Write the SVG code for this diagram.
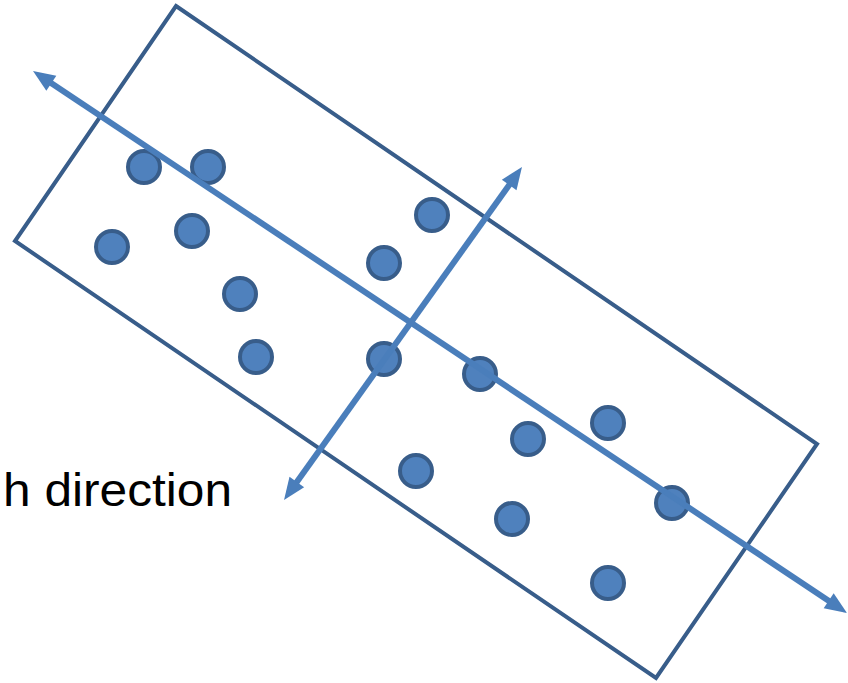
<svg xmlns="http://www.w3.org/2000/svg" width="848" height="683" viewBox="0 0 848 683">
<style>
.frame{fill:none;stroke:#385D8A;stroke-width:4;stroke-linejoin:miter}
.dot{fill:#4F81BD;stroke:#385D8A;stroke-width:4}
.axis{fill:none;stroke:#4A7EBB;stroke-width:6}
.lbl{font-family:"Liberation Sans",Arial,sans-serif;font-size:46px;fill:#000}
</style>
<defs>
<marker id="ah" markerUnits="userSpaceOnUse" markerWidth="24" markerHeight="20" refX="4" refY="9" orient="auto-start-reverse" overflow="visible">
<path d="M0,0 L22,9 L0,18 z" fill="#4A7EBB"/>
</marker>
</defs>
<g id="box"><polygon class="frame" points="176,6 817,444 656,678 15,241"/></g>
<g id="points">
<circle class="dot" cx="144" cy="167" r="16"/>
<circle class="dot" cx="208" cy="167" r="16"/>
<circle class="dot" cx="112" cy="247" r="16"/>
<circle class="dot" cx="192" cy="231" r="16"/>
<circle class="dot" cx="240" cy="294" r="16"/>
<circle class="dot" cx="256" cy="357" r="16"/>
<circle class="dot" cx="384" cy="359" r="16"/>
<circle class="dot" cx="384" cy="263" r="16"/>
<circle class="dot" cx="432" cy="215" r="16"/>
<circle class="dot" cx="480" cy="374" r="16"/>
<circle class="dot" cx="528" cy="439" r="16"/>
<circle class="dot" cx="608" cy="423" r="16"/>
<circle class="dot" cx="416" cy="471" r="16"/>
<circle class="dot" cx="512" cy="519" r="16"/>
<circle class="dot" cx="672" cy="503" r="16"/>
<circle class="dot" cx="608" cy="583" r="16"/>
</g>
<g id="connectors">
<line class="axis" x1="48" y1="81" x2="832" y2="603" marker-start="url(#ah)" marker-end="url(#ah)"/>
<line class="axis" x1="511.5" y1="181.7" x2="294.5" y2="485.3" marker-start="url(#ah)" marker-end="url(#ah)"/>
</g>
<g id="label"><text class="lbl" x="3" y="506" textLength="229" lengthAdjust="spacingAndGlyphs">h direction</text></g>
</svg>
